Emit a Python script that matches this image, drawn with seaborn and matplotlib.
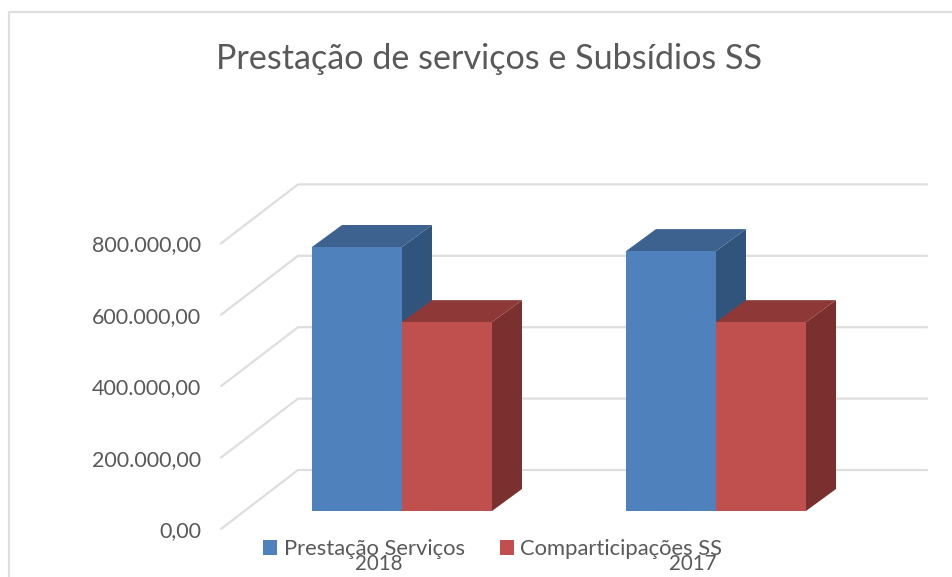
import pandas as pd
import matplotlib.pyplot as plt
import seaborn as sns
from matplotlib.patches import Polygon

# --- DATA ---
YEARS = ['2018', '2017']
SERIES = ['Prestação Serviços', 'Comparticipações SS']
PRESTACAO = [739500, 728000]
COMPARTICIPACOES = [529000, 529000]
Y_TICKS = [0, 200000, 400000, 600000, 800000]
Y_LABELS = ['0,00', '200.000,00', '400.000,00', '600.000,00', '800.000,00']
TITLE = 'Prestação de serviços e Subsídios SS'

COLORS = ['#4F81BD', '#C0504D']
TOP_COLORS = ['#3D628F', '#8E3937']
SIDE_COLORS = ['#31547C', '#7A302E']
GRID = '#DEDEDE'
TEXT = '#595959'

# pixel layout of the reference
W, H = 952, 577
X0, X_STEP = 402, 314
Y0, Y_STEP = 511, 71.4 / 200000
DEPTH_X, DEPTH_Y = 30 / X_STEP, 22 / Y_STEP


def px_x(p):
    return (p - X0) / X_STEP


def px_y(p):
    return (Y0 - p) / Y_STEP


sns.set_theme(style='white')
plt.rcParams['font.family'] = ['Lato', 'DejaVu Sans']

df = pd.DataFrame({
    'ano': YEARS * 2,
    'serie': [SERIES[0]] * 2 + [SERIES[1]] * 2,
    'valor': PRESTACAO + COMPARTICIPACOES,
})

fig = plt.figure(figsize=(W / 100, H / 100), dpi=100)
ax = fig.add_axes([0, 0, 1, 1])
sns.barplot(data=df, x='ano', y='valor', hue='serie', order=YEARS, hue_order=SERIES,
            palette=COLORS, width=180 / X_STEP, saturation=1, linewidth=0, ax=ax, zorder=6)
ax.set_xlim(px_x(0), px_x(W))
ax.set_ylim(px_y(H), px_y(0))
ax.set_axis_off()

# chart frame
ax.plot([px_x(9), px_x(9), px_x(W)], [px_y(H), px_y(12), px_y(12)], color=GRID, lw=1.6, zorder=1)

# gridlines: back wall and side wall
for v in Y_TICKS:
    back = v + px_y(470)
    ax.plot([px_x(221), px_x(298), px_x(927)], [v + px_y(529), back, back], color=GRID, lw=1.6, zorder=1)

# fake 3D depth on each bar
for i, container in enumerate(ax.containers):
    for bar in container:
        x0, x1 = bar.get_x(), bar.get_x() + bar.get_width()
        h = bar.get_height()
        top = [(x0, h), (x0 + DEPTH_X, h + DEPTH_Y), (x1 + DEPTH_X, h + DEPTH_Y), (x1, h)]
        side = [(x1, 0), (x1 + DEPTH_X, DEPTH_Y), (x1 + DEPTH_X, h + DEPTH_Y), (x1, h)]
        ax.add_patch(Polygon(side, facecolor=SIDE_COLORS[i], edgecolor='none', zorder=2 + i))
        ax.add_patch(Polygon(top, facecolor=TOP_COLORS[i], edgecolor='none', zorder=2 + i))

# tick labels
for v, lab in zip(Y_TICKS, Y_LABELS):
    ax.text(px_x(201), v + px_y(531), lab, ha='right', va='center', fontsize=15.5, color=TEXT)
for i, year in enumerate(YEARS):
    ax.text(i + px_x(379), px_y(564), year, ha='center', va='center', fontsize=14.8, color=TEXT, zorder=8)

ax.text(px_x(488.5), px_y(59), TITLE, ha='center', va='center', fontsize=24.6, color=TEXT)

handles, labels = ax.get_legend_handles_labels()
ax.legend(handles, labels, loc='center left', bbox_to_anchor=(263 / W, 1 - 549 / H), ncol=2, frameon=False,
          fontsize=15.8, labelcolor=TEXT, handlelength=0.64, handleheight=0.64, handletextpad=0.3,
          columnspacing=1.6, borderpad=0, borderaxespad=0)

fig.savefig('out.png', dpi=100)
